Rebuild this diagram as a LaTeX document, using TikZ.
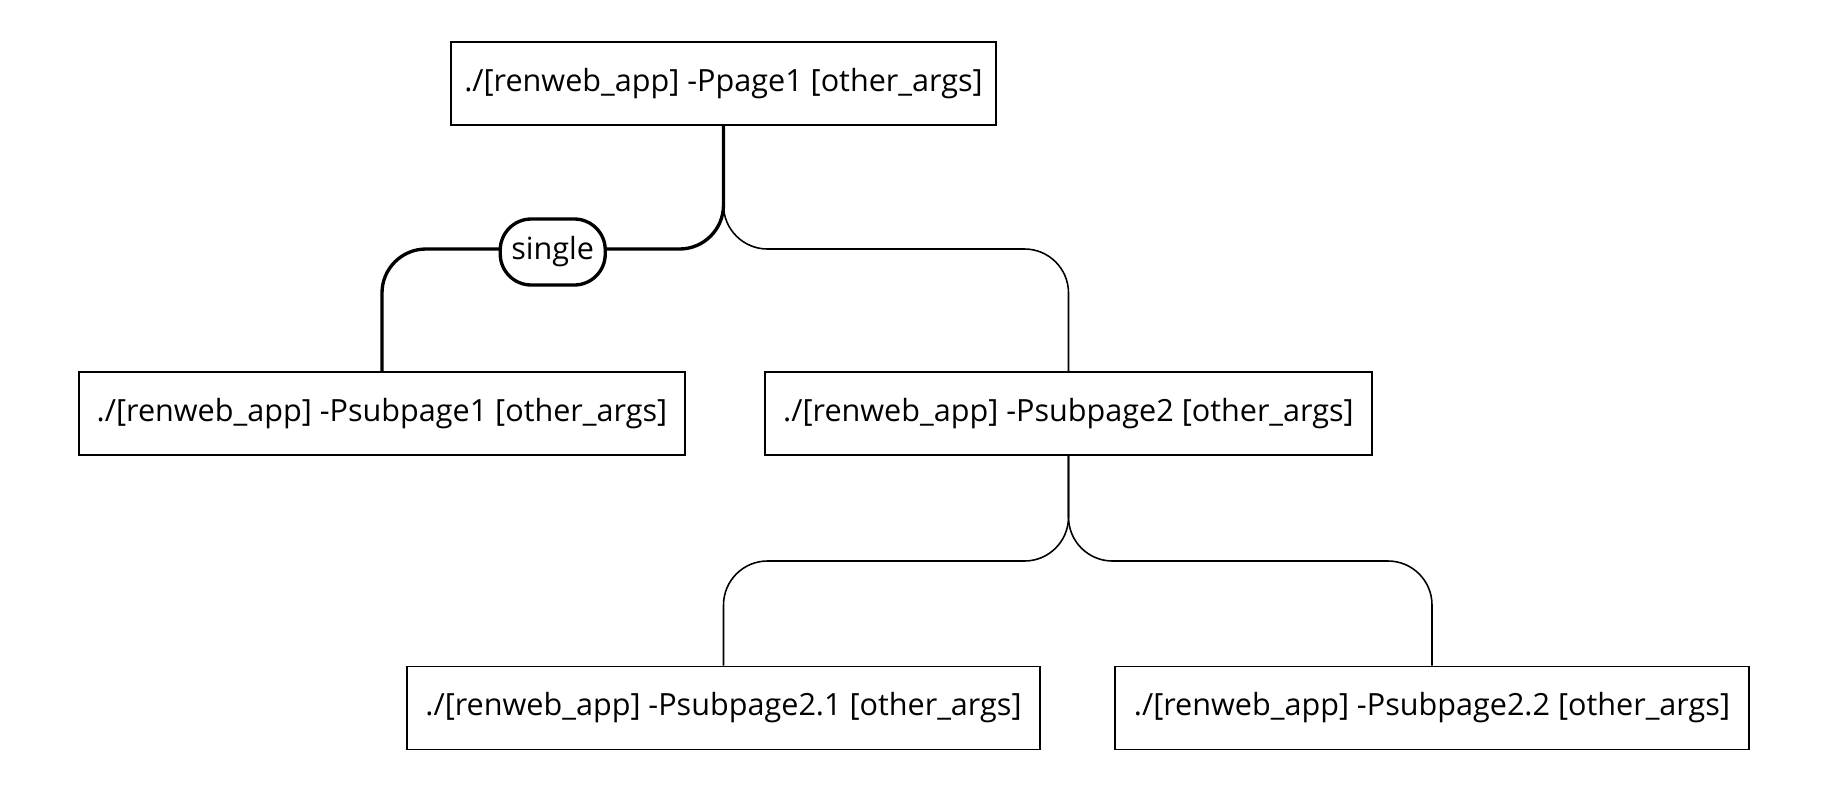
\documentclass[tikz,border=0pt]{standalone}
\usepackage{fontspec}
\setmainfont{Open Sans}
\usepackage{tikz}

\tikzset{
  cmdbox/.style={draw, line width=1.1pt, minimum height=1.66cm, inner sep=0pt, font=\fontsize{17.4}{20}\selectfont},
  pathline/.style={line width=0.9pt, rounded corners=0.88cm},
  chosen/.style={line width=1.9pt, rounded corners=0.88cm},
  tag/.style={draw, fill=white, line width=1.9pt, rounded corners=0.62cm, minimum width=2.1cm, minimum height=1.32cm, inner sep=0pt, yshift=-0.06cm, font=\fontsize{17.4}{20}\selectfont}
}

\begin{document}
\begin{tikzpicture}
\useasboundingbox (0,0) rectangle (36.68,-15.72);

\node[cmdbox, minimum width=10.9cm] (Page) at (14.47,-1.67) {./[renweb\_app] -Ppage1 [other\_args]};
\node[cmdbox, minimum width=12.12cm] (Subpage1) at (7.64,-8.27) {./[renweb\_app] -Psubpage1 [other\_args]};
\node[cmdbox, minimum width=12.14cm] (Subpage2) at (21.37,-8.27) {./[renweb\_app] -Psubpage2 [other\_args]};
\node[cmdbox, minimum width=12.66cm] (Subpage21) at (14.47,-14.16) {./[renweb\_app] -Psubpage2.1 [other\_args]};
\node[cmdbox, minimum width=12.68cm] (Subpage22) at (28.64,-14.16) {./[renweb\_app] -Psubpage2.2 [other\_args]};

\coordinate (Split) at (0,-4.98);
\coordinate (SplitTwo) at (0,-11.22);

\draw[pathline] (Page.south) -- (Page.south |- Split) -- (Subpage2.north |- Split) -- (Subpage2.north);
\draw[chosen] (Page.south) -- (Page.south |- Split) -- node[tag] (Single) {single} (Subpage1.north |- Split) -- (Subpage1.north);
\draw[pathline] (Subpage2.south) -- (Subpage2.south |- SplitTwo) -- (Subpage21.north |- SplitTwo) -- (Subpage21.north);
\draw[pathline] (Subpage2.south) -- (Subpage2.south |- SplitTwo) -- (Subpage22.north |- SplitTwo) -- (Subpage22.north);
\end{tikzpicture}
\end{document}
